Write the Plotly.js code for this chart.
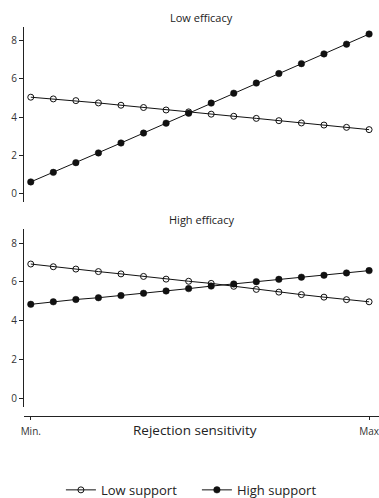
<!DOCTYPE html>
<html><head><meta charset="utf-8">
<script src="https://cdn.plot.ly/plotly-3.0.1.min.js"></script>
<style>html,body{margin:0;padding:0;background:#fff}#chart{width:379px;height:498px}</style>
</head><body><div id="chart"></div>
<script>
var steps = [0,1,2,3,4,5,6,7,8,9,10,11,12,13,14,15];
var tickLabels = ["Min.", "Max"];
var lowEffLowSupport  = [5.04,4.95,4.86,4.74,4.62,4.50,4.37,4.27,4.15,4.04,3.93,3.81,3.69,3.58,3.46,3.34];
var lowEffHighSupport = [0.60,1.10,1.61,2.12,2.64,3.16,3.68,4.20,4.73,5.25,5.78,6.28,6.80,7.31,7.82,8.35];
var highEffLowSupport = [6.92,6.78,6.66,6.53,6.41,6.28,6.14,6.03,5.92,5.77,5.61,5.47,5.34,5.21,5.08,4.97];
var highEffHighSupport= [4.84,4.97,5.09,5.18,5.29,5.41,5.53,5.65,5.78,5.89,6.01,6.13,6.24,6.34,6.46,6.58];
var seriesNames = ["Low support", "High support"];
var panelTitles = ["Low efficacy", "High efficacy"];

var F = "Open Sans, sans-serif";
var openM = {symbol:"circle-open", size:6, color:"#111", line:{width:1, color:"#111"}};
var fillM = {symbol:"circle", size:6.5, color:"#111", line:{width:0.5, color:"#111"}};
var ln = {color:"#111", width:1};

var traces = [
  {x:steps, y:lowEffLowSupport, mode:"lines+markers", name:seriesNames[0], marker:openM, line:ln, xaxis:"x", yaxis:"y2", legendgroup:"a"},
  {x:steps, y:lowEffHighSupport, mode:"lines+markers", name:seriesNames[1], marker:fillM, line:ln, xaxis:"x", yaxis:"y2", legendgroup:"b"},
  {x:steps, y:highEffLowSupport, mode:"lines+markers", name:seriesNames[0], marker:openM, line:ln, xaxis:"x", yaxis:"y", showlegend:false, legendgroup:"a"},
  {x:steps, y:highEffHighSupport, mode:"lines+markers", name:seriesNames[1], marker:fillM, line:ln, xaxis:"x", yaxis:"y", showlegend:false, legendgroup:"b"}
];

var yax = {range:[-0.46,8.72], tickvals:[0,2,4,6,8], ticks:"outside", ticklen:4, tickcolor:"#222",
  showline:true, linecolor:"#222", linewidth:1, showgrid:false, zeroline:false,
  tickfont:{family:F, size:10, color:"#333"}, anchor:"x", fixedrange:true};

var layout = {
  width:379, height:498,
  margin:{l:24, r:0, t:27, b:82, autoexpand:false},
  paper_bgcolor:"#fff", plot_bgcolor:"#fff",
  font:{family:F, color:"#222"},
  showlegend:true,
  legend:{orientation:"h", x:0.104, xanchor:"left", y:-0.19, yanchor:"middle",
    font:{family:F, size:13, color:"#222"}, tracegroupgap:0, itemwidth:30,
    entrywidth:91, entrywidthmode:"pixels"},
  xaxis:{range:[-0.3,15.44], tickvals:[steps[0], steps[steps.length-1]], ticktext:tickLabels,
    ticks:"outside", ticklen:3, tickcolor:"#222", showline:true, linecolor:"#222", linewidth:1,
    showgrid:false, zeroline:false, anchor:"free", position:0, ticklabelstandoff:3,
    ticklabeloverflow:"allow",
    tickfont:{family:F, size:10, color:"#333"}, fixedrange:true},
  yaxis:Object.assign({}, yax, {domain:[0.0232,0.4803]}),
  yaxis2:Object.assign({}, yax, {domain:[0.5498,1]}),
  annotations:[
    {text:panelTitles[0], xref:"paper", yref:"paper", x:0.5, y:1.0257, yanchor:"middle", showarrow:false, font:{family:F, size:11, color:"#222"}},
    {text:panelTitles[1], xref:"paper", yref:"paper", x:0.5, y:0.5055, yanchor:"middle", showarrow:false, font:{family:F, size:11, color:"#222"}},
    {text:"Rejection sensitivity", xref:"paper", yref:"paper", x:0.4825, y:-0.036, yanchor:"middle", showarrow:false, font:{family:F, size:13.5, color:"#222"}}
  ]
};
Plotly.newPlot("chart", traces, layout, {displayModeBar:false, staticPlot:true});
</script></body></html>
